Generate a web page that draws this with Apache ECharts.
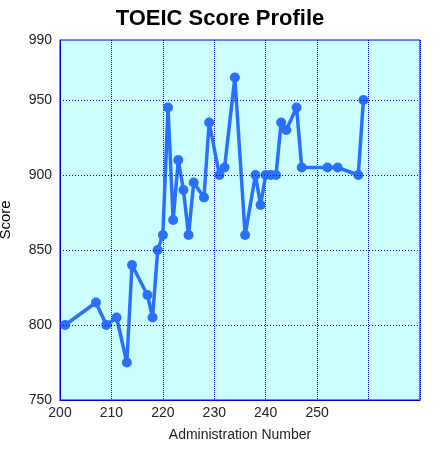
<!DOCTYPE html>
<html>
<head>
<meta charset="utf-8">
<script src="https://cdn.jsdelivr.net/npm/echarts@6/dist/echarts.min.js"></script>
<style>html,body{margin:0;padding:0;background:#fff}#main{width:440px;height:452px}</style>
</head>
<body>
<div id="main"></div>
<script>
var admin = [201, 207, 209, 211, 213, 214, 217, 218, 219, 220, 221, 222, 223, 224, 225, 226, 228, 229, 231, 232, 234,
  236, 238, 239, 240, 241, 242, 243, 244, 246, 247, 252, 254, 258, 259];
var scores = [800, 815, 800, 805, 775, 840, 820, 805, 850, 860, 945, 870, 910, 890, 860, 895, 885, 935, 900, 905, 965,
  860, 900, 880, 900, 900, 900, 935, 930, 945, 905, 905, 905, 900, 950];
var xLabels = [200, 210, 220, 230, 240, 250];

var chart = echarts.init(document.getElementById('main'));
var blue = '#0000dd';
var option = {
  animation: false,
  title: {
    text: 'TOEIC Score Profile', left: 'center', top: 3,
    textStyle: { fontFamily: 'Liberation Sans', fontSize: 22, fontWeight: 'bold', color: '#000' }
  },
  grid: {
    left: 60, right: 20, top: 40, bottom: 52, outerBoundsMode: 'none',
    show: true, backgroundColor: '#ccffff', borderColor: blue, borderWidth: 1
  },
  xAxis: {
    type: 'value', min: 200, max: 270, interval: 10,
    name: 'Administration Number', nameLocation: 'middle', nameGap: 28,
    nameTextStyle: { fontFamily: 'Liberation Sans', fontSize: 14, color: '#222' },
    axisLine: { lineStyle: { color: blue } },
    axisTick: { show: false },
    axisLabel: {
      fontFamily: 'Liberation Sans', fontSize: 14, color: '#222', margin: 6,
      formatter: function (v) { return xLabels.indexOf(v) >= 0 ? v : ''; }
    },
    splitLine: { lineStyle: { color: blue, type: 'dotted' } }
  },
  yAxis: {
    type: 'value', min: 750, max: 990,
    name: 'Score', nameLocation: 'middle', nameGap: 47,
    nameTextStyle: { fontFamily: 'Liberation Sans', fontSize: 15, color: '#000' },
    axisLine: { show: true, lineStyle: { color: blue } },
    axisTick: { show: false },
    axisLabel: {
      fontFamily: 'Liberation Sans', fontSize: 14, color: '#222', margin: 8,
      customValues: [750, 800, 850, 900, 950, 990]
    },
    splitLine: { show: false }
  },
  series: [{
    type: 'line',
    data: admin.map(function (a, i) { return [a, scores[i]]; }),
    symbol: 'circle', symbolSize: 10,
    lineStyle: { color: '#2a70ff', width: 3.5 },
    itemStyle: { color: '#2a70ff' },
    markLine: {
      silent: true, symbol: 'none', label: { show: false },
      lineStyle: { color: blue, type: [1, 2], width: 1 },
      data: [{ yAxis: 800 }, { yAxis: 850 }, { yAxis: 900 }, { yAxis: 950 }]
    }
  }]
};
chart.setOption(option);
</script>
</body>
</html>
